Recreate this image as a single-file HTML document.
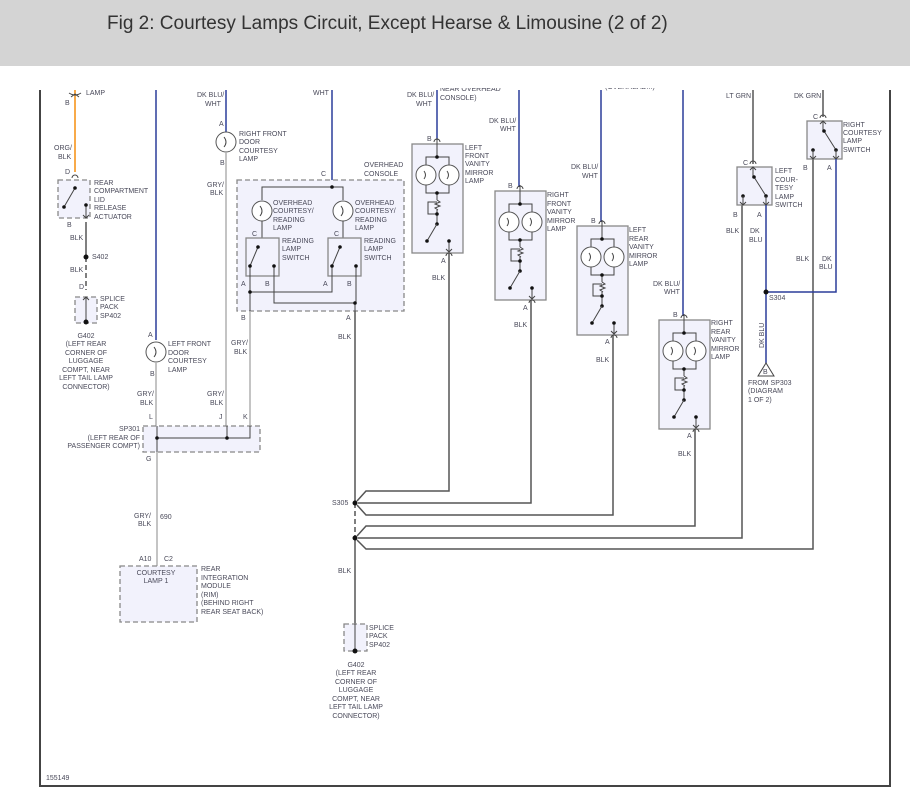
<!DOCTYPE html>
<html><head><meta charset="utf-8"><style>
html,body{margin:0;padding:0;background:#fff;width:910px;height:795px;overflow:hidden}
.hdr{position:absolute;left:0;top:0;width:910px;height:66px;background:#d4d4d4;z-index:2}
.hdr span{position:absolute;left:107px;top:13px;font:19px "Liberation Sans",sans-serif;color:#333}
svg{position:absolute;left:0;top:0}
text{font-family:"Liberation Sans",sans-serif;font-size:7px;fill:#4a4a5a}
.bx{fill:#f2f2fc;stroke:#888;stroke-width:1.3}
.dbx{fill:#f2f2fc;stroke:#888;stroke-width:1.3;stroke-dasharray:5 3}
.w{fill:none;stroke:#555;stroke-width:1.5}
.g{fill:none;stroke:#b0b0b0;stroke-width:1.5}
.b{fill:none;stroke:#2b3d9a;stroke-width:1.5}
.o{fill:none;stroke:#f7941d;stroke-width:1.6}
.t{fill:none;stroke:#444;stroke-width:1}
.lamp{fill:#fff;stroke:#555;stroke-width:1}
</style></head><body>
<div class="hdr"><span>Fig 2: Courtesy Lamps Circuit, Except Hearse &amp; Limousine (2 of 2)</span></div>
<svg width="910" height="795" viewBox="0 0 910 795">
<defs>
<g id="van">
<rect class="bx" x="0" y="0" width="51" height="109"/>
<line class="t" x1="25" y1="-6" x2="25" y2="13"/>
<path class="t" d="M14 31V13H37V31 M14 31V49H37V31 M25 49V56"/>
<circle class="lamp" cx="14" cy="31" r="10"/><circle class="lamp" cx="37" cy="31" r="10"/>
<path class="t" d="M12 27q3 4 0 8 M35 27q3 4 0 8"/>
<path class="t" d="M25 56l3 2-5 2 5 2-5 2 3 2 M25 66V80 M25 58H16V70H25"/>
<circle cx="25" cy="13" r="1.8" fill="#111"/><circle cx="25" cy="49" r="1.8" fill="#111"/>
<circle cx="25" cy="70" r="1.8" fill="#111"/><circle cx="25" cy="80" r="1.8" fill="#111"/>
<line class="t" x1="25" y1="80" x2="15" y2="97"/><circle cx="15" cy="97" r="1.8" fill="#111"/>
<line class="t" x1="37" y1="97" x2="37" y2="109"/><circle cx="37" cy="97" r="1.8" fill="#111"/>
<path class="t" d="M34 105l3 3 3-3 M34 112a3 3 0 0 1 6 0 M22 -2a3 3 0 0 1 6 0"/>
</g>
</defs>
<!-- frame -->
<path d="M40 90V786H890V90" fill="none" stroke="#444" stroke-width="2"/>

<!-- left column -->
<path class="o" d="M75 90V172"/>
<path class="t" d="M69 93q6 4 12 0 M71 97l4-3 4 3"/>
<text x="86" y="95">LAMP</text>
<text x="65" y="105">B</text>
<text x="54" y="150">ORG/</text><text x="58" y="159">BLK</text>
<text x="65" y="174">D</text>
<path class="t" d="M72 178a3 3 0 0 1 6 0"/>
<rect class="dbx" x="58" y="180" width="32" height="38"/>
<line class="t" x1="75" y1="188" x2="64" y2="207"/><circle cx="75" cy="188" r="1.8" fill="#111"/><circle cx="64" cy="207" r="1.8" fill="#111"/>
<path class="t" d="M86 205V218 M83 215l3 3 3-3"/><circle cx="86" cy="205" r="1.8" fill="#111"/>
<text x="94" y="185">REAR</text><text x="94" y="193">COMPARTMENT</text><text x="94" y="202">LID</text><text x="94" y="210">RELEASE</text><text x="94" y="219">ACTUATOR</text>
<text x="67" y="227">B</text>
<path class="w" d="M86 222V257"/><path d="M86 257V290" stroke="#555" stroke-width="1.5" stroke-dasharray="5 3"/>
<circle cx="86" cy="257" r="2.5" fill="#111"/><text x="92" y="259">S402</text>
<text x="70" y="240">BLK</text><text x="70" y="272">BLK</text><text x="79" y="289">D</text>
<rect class="dbx" x="75" y="297" width="22" height="26"/>
<path class="t" d="M86 297V322 M83 300l3-3 3 3"/><circle cx="86" cy="322" r="2.5" fill="#111"/>
<text x="100" y="301">SPLICE</text><text x="100" y="309">PACK</text><text x="100" y="318">SP402</text>
<g text-anchor="middle"><text x="86" y="338">G402</text><text x="86" y="346">(LEFT REAR</text><text x="86" y="355">CORNER OF</text><text x="86" y="363">LUGGAGE</text><text x="86" y="372">COMPT, NEAR</text><text x="86" y="380">LEFT TAIL LAMP</text><text x="86" y="389">CONNECTOR)</text></g>

<!-- left front door lamp -->
<path class="b" d="M156 90V340"/>
<circle class="lamp" cx="156" cy="352" r="10"/><path class="t" d="M154 347q4 5 0 10"/>
<text x="148" y="337">A</text><text x="150" y="376">B</text>
<text x="168" y="346">LEFT FRONT</text><text x="168" y="355">DOOR</text><text x="168" y="363">COURTESY</text><text x="168" y="372">LAMP</text>
<path class="g" d="M156 363V426"/>
<text x="137" y="396">GRY/</text><text x="140" y="405">BLK</text>

<!-- right front door lamp -->
<text x="197" y="97">DK BLU/</text><text x="205" y="106">WHT</text>
<path class="b" d="M226 90V132"/>
<circle class="lamp" cx="226" cy="142" r="10"/><path class="t" d="M224 137q4 5 0 10"/>
<text x="219" y="126">A</text><text x="220" y="165">B</text>
<text x="239" y="136">RIGHT FRONT</text><text x="239" y="144">DOOR</text><text x="239" y="153">COURTESY</text><text x="239" y="161">LAMP</text>
<path class="g" d="M226 152V426"/>
<text x="207" y="187">GRY/</text><text x="210" y="195">BLK</text>
<text x="207" y="396">GRY/</text><text x="210" y="405">BLK</text>

<!-- overhead console -->
<text x="313" y="95">WHT</text>
<path class="b" d="M332 90V187"/>
<text x="321" y="176">C</text>
<text x="364" y="167">OVERHEAD</text><text x="364" y="176">CONSOLE</text>
<rect class="dbx" x="237" y="180" width="167" height="131"/>
<path class="t" d="M262 200V187H343V200"/><circle cx="332" cy="187" r="1.8" fill="#111"/>
<circle class="lamp" cx="262" cy="211" r="10"/><circle class="lamp" cx="343" cy="211" r="10"/>
<path class="t" d="M260 206q4 5 0 10 M341 206q4 5 0 10 M262 221V238 M343 221V238"/>
<text x="273" y="205">OVERHEAD</text><text x="273" y="213">COURTESY/</text><text x="273" y="222">READING</text><text x="273" y="230">LAMP</text>
<text x="355" y="205">OVERHEAD</text><text x="355" y="213">COURTESY/</text><text x="355" y="222">READING</text><text x="355" y="230">LAMP</text>
<text x="252" y="236">C</text><text x="334" y="236">C</text>
<rect class="bx" x="246" y="238" width="33" height="38"/><rect class="bx" x="328" y="238" width="33" height="38"/>
<path class="t" d="M258 247L250 266 M340 247L332 266 M250 266V276 M274 266V276 M332 266V276 M356 266V276"/>
<circle cx="258" cy="247" r="1.8" fill="#111"/><circle cx="250" cy="266" r="1.8" fill="#111"/><circle cx="274" cy="266" r="1.8" fill="#111"/>
<circle cx="340" cy="247" r="1.8" fill="#111"/><circle cx="332" cy="266" r="1.8" fill="#111"/><circle cx="356" cy="266" r="1.8" fill="#111"/>
<text x="282" y="243">READING</text><text x="282" y="251">LAMP</text><text x="282" y="260">SWITCH</text>
<text x="364" y="243">READING</text><text x="364" y="251">LAMP</text><text x="364" y="260">SWITCH</text>
<text x="241" y="286">A</text><text x="265" y="286">B</text><text x="323" y="286">A</text><text x="347" y="286">B</text>
<path class="t" d="M250 276V311 M250 292H332V276 M274 276V303H356V276 M355 303V311"/>
<circle cx="250" cy="292" r="1.8" fill="#111"/><circle cx="355" cy="303" r="1.8" fill="#111"/>
<text x="241" y="320">B</text><text x="346" y="320">A</text>
<path class="g" d="M250 311V426"/>
<text x="231" y="345">GRY/</text><text x="234" y="354">BLK</text>
<path class="w" d="M355 311V503"/>
<text x="338" y="339">BLK</text>

<!-- SP301 -->
<text x="149" y="419">L</text><text x="219" y="419">J</text><text x="243" y="419">K</text>
<rect class="dbx" x="143" y="426" width="117" height="26"/>
<path class="t" d="M157 426V452 M157 438H250V426 M227 426V438"/>
<circle cx="157" cy="438" r="1.8" fill="#111"/><circle cx="227" cy="438" r="1.8" fill="#111"/>
<g text-anchor="end"><text x="140" y="431">SP301</text><text x="140" y="440">(LEFT REAR OF</text><text x="140" y="448">PASSENGER COMPT)</text></g>
<text x="146" y="461">G</text>
<path class="g" d="M157 452V566"/>
<text x="134" y="518">GRY/</text><text x="138" y="526">BLK</text><text x="160" y="519">690</text>
<text x="139" y="561">A10</text><text x="164" y="561">C2</text>
<rect class="dbx" x="120" y="566" width="77" height="56"/>
<g text-anchor="middle"><text x="156" y="575">COURTESY</text><text x="156" y="583">LAMP 1</text></g>
<text x="201" y="571">REAR</text><text x="201" y="580">INTEGRATION</text><text x="201" y="588">MODULE</text><text x="201" y="597">(RIM)</text><text x="201" y="605">(BEHIND RIGHT</text><text x="201" y="614">REAR SEAT BACK)</text>

<!-- S305 / ground -->
<text x="332" y="505">S305</text>
<path d="M355 503V538" stroke="#555" stroke-width="1.5" stroke-dasharray="5 3"/>
<path class="w" d="M355 538V624"/>
<circle cx="355" cy="503" r="2.5" fill="#111"/><circle cx="355" cy="538" r="2.5" fill="#111"/>
<text x="338" y="573">BLK</text>
<rect class="dbx" x="344" y="624" width="23" height="27"/>
<path class="t" d="M355 624V651"/><circle cx="355" cy="651" r="2.5" fill="#111"/>
<text x="369" y="630">SPLICE</text><text x="369" y="638">PACK</text><text x="369" y="647">SP402</text>
<g text-anchor="middle"><text x="356" y="667">G402</text><text x="356" y="675">(LEFT REAR</text><text x="356" y="684">CORNER OF</text><text x="356" y="692">LUGGAGE</text><text x="356" y="701">COMPT, NEAR</text><text x="356" y="709">LEFT TAIL LAMP</text><text x="356" y="718">CONNECTOR)</text></g>
<text x="46" y="780">155149</text>

<!-- bus branches -->
<path class="w" d="M449 253V491H366L357 501 M531 299V503H358 M613 334V515H366L357 505 M695 428V526H366L357 536 M742 205V538H358 M813 158V549H366L357 540"/>

<!-- vanity mirrors -->
<text x="407" y="97">DK BLU/</text><text x="416" y="106">WHT</text><text x="440" y="91">NEAR OVERHEAD</text><text x="440" y="100">CONSOLE)</text>
<path class="b" d="M437 90V140"/><use href="#van" x="412" y="144"/>
<text x="427" y="141">B</text><text x="441" y="263">A</text><text x="432" y="280">BLK</text>
<text x="465" y="150">LEFT</text><text x="465" y="158">FRONT</text><text x="465" y="166">VANITY</text><text x="465" y="175">MIRROR</text><text x="465" y="183">LAMP</text>

<text x="489" y="123">DK BLU/</text><text x="500" y="131">WHT</text>
<path class="b" d="M519 90V187"/><use href="#van" x="495" y="191"/>
<text x="508" y="188">B</text><text x="523" y="310">A</text><text x="514" y="327">BLK</text>
<text x="547" y="197">RIGHT</text><text x="547" y="206">FRONT</text><text x="547" y="214">VANITY</text><text x="547" y="223">MIRROR</text><text x="547" y="231">LAMP</text>

<text x="571" y="169">DK BLU/</text><text x="582" y="178">WHT</text>
<path class="b" d="M601 90V222"/><use href="#van" x="577" y="226"/>
<text x="591" y="223">B</text><text x="605" y="344">A</text><text x="596" y="362">BLK</text>
<text x="629" y="232">LEFT</text><text x="629" y="241">REAR</text><text x="629" y="249">VANITY</text><text x="629" y="258">MIRROR</text><text x="629" y="266">LAMP</text>
<text x="605" y="89">(OVERHEAD...)</text>

<text x="653" y="286">DK BLU/</text><text x="664" y="294">WHT</text>
<path class="b" d="M683 90V316"/><use href="#van" x="659" y="320"/>
<text x="673" y="317">B</text><text x="687" y="438">A</text><text x="678" y="456">BLK</text>
<text x="711" y="325">RIGHT</text><text x="711" y="334">REAR</text><text x="711" y="342">VANITY</text><text x="711" y="351">MIRROR</text><text x="711" y="359">LAMP</text>

<!-- courtesy switches -->
<text x="726" y="98">LT GRN</text>
<path class="w" d="M753 90V164"/>
<g transform="translate(737,167)"><rect class="bx" x="0" y="0" width="35" height="38"/>
<path class="t" d="M16 0V10 M13 3l3-3 3 3 M13 -3a3 3 0 0 1 6 0"/>
<line class="t" x1="17" y1="10" x2="29" y2="29"/><circle cx="17" cy="10" r="1.8" fill="#111"/><circle cx="29" cy="29" r="1.8" fill="#111"/><circle cx="6" cy="29" r="1.8" fill="#111"/>
<path class="t" d="M6 29V38 M29 29V38 M3 35l3 3 3-3 M26 35l3 3 3-3"/></g>
<text x="743" y="165">C</text><text x="733" y="217">B</text><text x="757" y="217">A</text>
<text x="775" y="173">LEFT</text><text x="775" y="182">COUR-</text><text x="775" y="190">TESY</text><text x="775" y="199">LAMP</text><text x="775" y="207">SWITCH</text>
<text x="726" y="233">BLK</text><text x="750" y="233">DK</text><text x="749" y="242">BLU</text>

<text x="794" y="98">DK GRN</text>
<path class="w" d="M823 90V117"/>
<g transform="translate(807,121)"><rect class="bx" x="0" y="0" width="35" height="38"/>
<path class="t" d="M16 0V10 M13 3l3-3 3 3 M13 -3a3 3 0 0 1 6 0"/>
<line class="t" x1="17" y1="10" x2="29" y2="29"/><circle cx="17" cy="10" r="1.8" fill="#111"/><circle cx="29" cy="29" r="1.8" fill="#111"/><circle cx="6" cy="29" r="1.8" fill="#111"/>
<path class="t" d="M6 29V38 M29 29V38 M3 35l3 3 3-3 M26 35l3 3 3-3"/></g>
<text x="813" y="119">C</text><text x="803" y="170">B</text><text x="827" y="170">A</text>
<text x="843" y="127">RIGHT</text><text x="843" y="135">COURTESY</text><text x="843" y="143">LAMP</text><text x="843" y="152">SWITCH</text>
<text x="796" y="261">BLK</text><text x="822" y="261">DK</text><text x="819" y="269">BLU</text>

<path class="b" d="M766 205V363 M836 159V292H766"/>
<circle cx="766" cy="292" r="2.5" fill="#111"/><text x="769" y="300">S304</text>
<text transform="translate(764,348) rotate(-90)">DK BLU</text>
<path d="M766 363L758 376H774Z" fill="#fff" stroke="#444"/><text x="763" y="374">B</text>
<text x="748" y="385">FROM SP303</text><text x="748" y="393">(DIAGRAM</text><text x="748" y="402">1 OF 2)</text>
<rect x="0" y="66" width="910" height="22" fill="#fff"/>
</svg>
</body></html>
